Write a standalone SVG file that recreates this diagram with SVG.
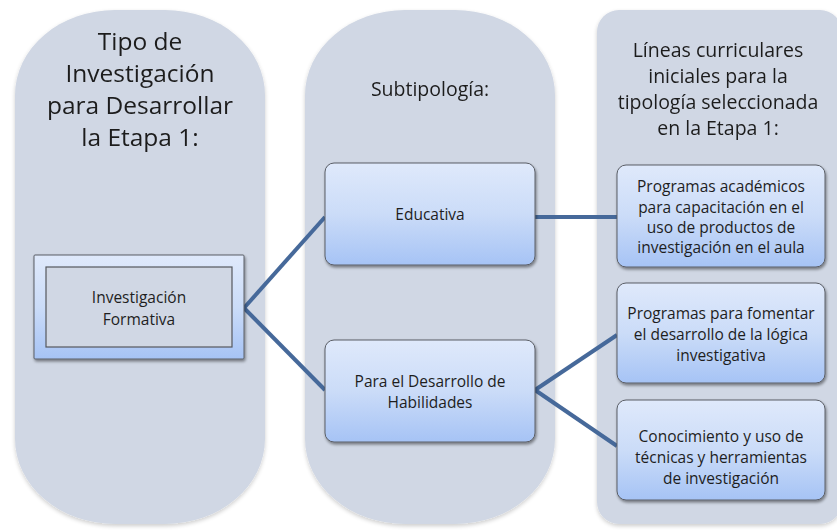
<svg xmlns="http://www.w3.org/2000/svg" width="837" height="531" viewBox="0 0 837 531">
<defs>
<linearGradient id="boxg" x1="0" y1="0" x2="0" y2="1">
<stop offset="0" stop-color="#dfe9fb"/>
<stop offset="0.5" stop-color="#cbdcf8"/>
<stop offset="1" stop-color="#a6c3f5"/>
</linearGradient>
<filter id="sh" x="-10%" y="-10%" width="125%" height="130%">
<feGaussianBlur in="SourceAlpha" stdDeviation="1.5"/>
<feOffset dx="1" dy="2" result="b"/>
<feComponentTransfer><feFuncA type="linear" slope="0.45"/></feComponentTransfer>
<feMerge><feMergeNode/><feMergeNode in="SourceGraphic"/></feMerge>
</filter>
<filter id="csh" x="-5%" y="-5%" width="110%" height="110%">
<feGaussianBlur in="SourceAlpha" stdDeviation="2"/>
<feOffset dx="0" dy="2" result="b"/>
<feComponentTransfer><feFuncA type="linear" slope="0.2"/></feComponentTransfer>
<feMerge><feMergeNode/><feMergeNode in="SourceGraphic"/></feMerge>
</filter>
</defs>
<style>
.col{fill:#d0d7e4;}
.box{fill:url(#boxg);stroke:#5a5e66;stroke-width:1;filter:url(#sh);}
.t{font-family:"Open Sans","Noto Sans",sans-serif;fill:#1e1e1e;text-anchor:middle;}
.h1{font-size:24.5px;}
.h2{font-size:19.5px;}
.b{font-size:15.5px;}
.conn{stroke:#46699a;stroke-width:4;fill:none;stroke-linecap:butt;}
</style>
<rect width="837" height="531" fill="#ffffff"/>

<g id="col1" filter="url(#csh)">
<rect class="col" x="15" y="10" width="250" height="514" rx="100" ry="85"/>
<text class="t h1" x="140" y="50">Tipo de</text>
<text class="t h1" x="140" y="82">Investigación</text>
<text class="t h1" x="140" y="114">para Desarrollar</text>
<text class="t h1" x="140" y="146">la Etapa 1:</text>
</g>
<g id="col2" filter="url(#csh)">
<rect class="col" x="305" y="10" width="250" height="514" rx="100" ry="85"/>
<text class="t h2" x="430" y="96">Subtipología:</text>
</g>
<g id="col3" filter="url(#csh)">
<rect class="col" x="597" y="10" width="245" height="514" rx="22" ry="22"/>
<text class="t h2" x="718" y="57">Líneas curriculares</text>
<text class="t h2" x="718" y="83">iniciales para la</text>
<text class="t h2" x="718" y="109">tipología seleccionada</text>
<text class="t h2" x="718" y="135">en la Etapa 1:</text>
</g>

<g id="connectors">
<line class="conn" x1="244" y1="308" x2="325" y2="217"/>
<line class="conn" x1="244" y1="308" x2="325" y2="390"/>
<line class="conn" x1="535" y1="217" x2="617" y2="217"/>
<line class="conn" x1="535" y1="390" x2="617" y2="335"/>
<line class="conn" x1="535" y1="390" x2="617" y2="446"/>
</g>

<g id="n-formativa">
<rect class="box" x="34" y="255" width="210" height="104" rx="1"/>
<rect x="46" y="267" width="186" height="80" fill="#d0d7e4" stroke="#55585e" stroke-width="1.2"/>
<text class="t b" x="139" y="303">Investigación</text>
<text class="t b" x="139" y="325">Formativa</text>
</g>
<g id="n-educativa">
<rect class="box" x="325" y="163" width="210" height="102" rx="9"/>
<text class="t b" x="430" y="220">Educativa</text>
</g>
<g id="n-habilidades">
<rect class="box" x="325" y="340" width="210" height="102" rx="9"/>
<text class="t b" x="430" y="387">Para el Desarrollo de</text>
<text class="t b" x="430" y="408">Habilidades</text>
</g>
<g id="n-programas-academicos">
<rect class="box" x="617" y="165" width="208" height="102" rx="9"/>
<text class="t b" x="721" y="192">Programas académicos</text>
<text class="t b" x="721" y="213">para capacitación en el</text>
<text class="t b" x="721" y="233">uso de productos de</text>
<text class="t b" x="721" y="253">investigación en el aula</text>
</g>
<g id="n-logica">
<rect class="box" x="617" y="283" width="208" height="100" rx="9"/>
<text class="t b" x="721" y="319">Programas para fomentar</text>
<text class="t b" x="721" y="340">el desarrollo de la lógica</text>
<text class="t b" x="721" y="361">investigativa</text>
</g>
<g id="n-tecnicas">
<rect class="box" x="617" y="400" width="208" height="100" rx="9"/>
<text class="t b" x="721" y="442">Conocimiento y uso de</text>
<text class="t b" x="721" y="463">técnicas y herramientas</text>
<text class="t b" x="721" y="484">de investigación</text>
</g>
</svg>
